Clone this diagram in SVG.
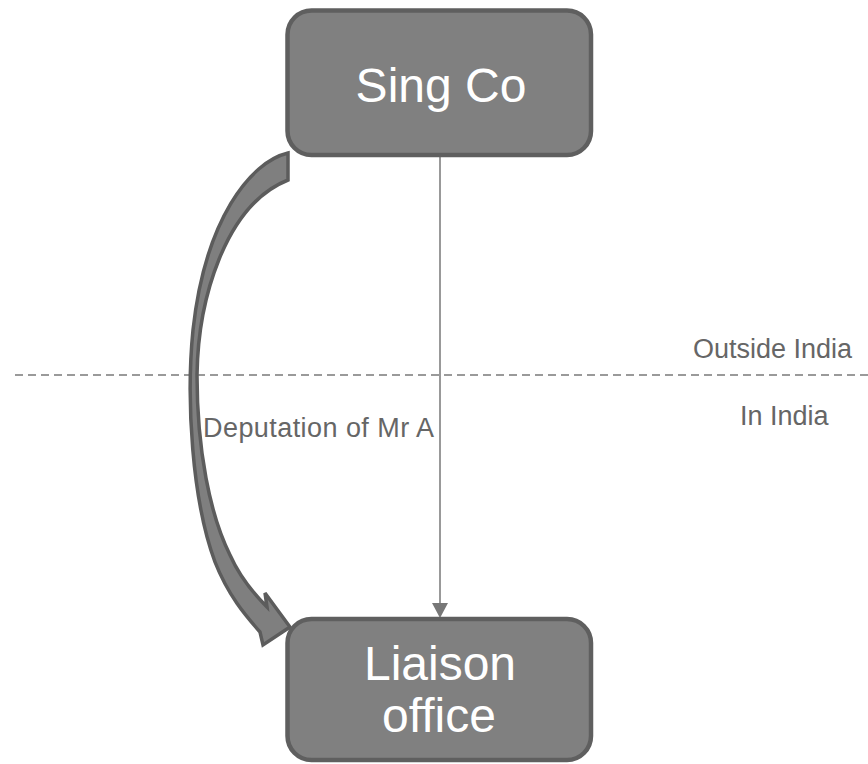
<svg xmlns="http://www.w3.org/2000/svg" width="868" height="764" viewBox="0 0 868 764">
<style>
.box{fill:#808080;stroke:#5f5f5f;stroke-width:4.5}
.boxtxt{font-family:"Liberation Sans",Arial,sans-serif;font-size:48px;fill:#ffffff;text-anchor:middle}
.lbl{font-family:"Liberation Sans",Arial,sans-serif;font-size:27px;fill:#666666}
</style>
<defs>
<marker id="ah" viewBox="0 0 16 15" refX="8" refY="15" markerWidth="16" markerHeight="15" markerUnits="userSpaceOnUse" orient="auto-start-reverse">
<path d="M0,0 L16,0 L8,15 Z" fill="#777777"/>
</marker>
</defs>
<rect width="868" height="764" fill="#ffffff"/>
<line x1="15" y1="375" x2="868" y2="375" stroke="#9a9a9a" stroke-width="2" stroke-dasharray="8,5"/>
<text class="lbl" x="693" y="358">Outside India</text>
<text class="lbl" x="740" y="425">In India</text>
<g id="connectors">
<line x1="440" y1="157" x2="440" y2="603" stroke="#777777" stroke-width="1.5"/>
<path d="M432,603 L448,603 L440,618 Z" fill="#777777"/>
<path d="M288,153 C250,162 205,220 193,330 C186,400 192,500 215,562 C228,595 245,615 260,632 L263,645 L290,627 L265,593 L267,607 C250,590 238,573 230,555 C210,515 197,450 197,375 C198,300 225,205 288,180 Z" fill="#7f7f7f" stroke="#5c5c5c" stroke-width="3.5" stroke-linejoin="miter"/>
<text class="lbl" x="203" y="437" textLength="231" lengthAdjust="spacing">Deputation of Mr A</text>
</g>
<g id="singco">
<rect class="box" x="287.5" y="10.5" width="303.5" height="144.5" rx="24"/>
<text class="boxtxt" x="441" y="102">Sing Co</text>
</g>
<g id="liaison">
<rect class="box" x="287.5" y="619" width="303.5" height="141" rx="24"/>
<text class="boxtxt" x="440" y="680">Liaison</text>
<text class="boxtxt" x="439" y="732">office</text>
</g>
</svg>
